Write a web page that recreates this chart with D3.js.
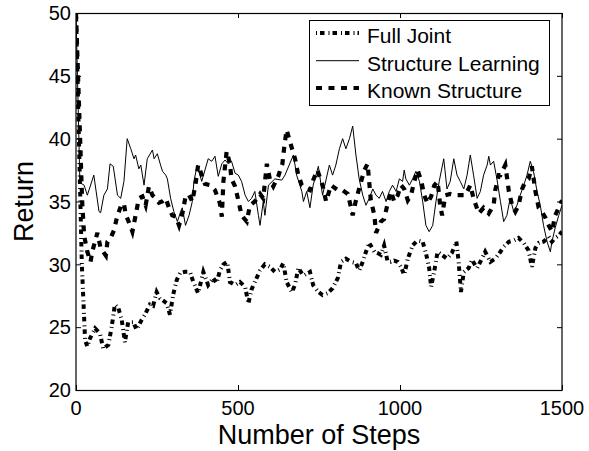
<!DOCTYPE html>
<html>
<head>
<meta charset="utf-8">
<script src="https://cdn.jsdelivr.net/npm/d3@7"></script>
<style>
  html, body { margin: 0; padding: 0; background: #fff; }
  svg { display: block; }
  text { font-family: "Liberation Sans", Arial, Helvetica, sans-serif; fill: #000; }
</style>
</head>
<body>
<svg id="chart" width="589" height="451"></svg>
<script>
// Return per episode step for three learners
const stepsFull = [0,18,28,35,43,59,74,84,100,110,120,131,141,151,161,177,187,203,213,228,238,249,259,270,280,290,300,311,321,336,352,362,377,393,408,424,434,444,455,467,475,491,506,522,532,542,552,568,583,599,614,630,640,650,666,676,686,702,722,732,748,761,777,792,808,818,833,849,864,874,885,895,905,921,931,941,951,962,972,982,993,1003,1013,1024,1039,1054,1070,1080,1090,1096,1106,1116,1130,1145,1160,1174,1181,1188,1197,1212,1222,1238,1253,1263,1279,1294,1310,1320,1336,1351,1366,1382,1397,1407,1418,1428,1443,1459,1469,1479,1490,1500];
const returnFull = [50,30,24.0,23.45,24.1,24.9,24.5,23.3,23.6,25.0,26.8,26.5,25.6,23.8,25.4,25.4,24.8,25.6,26.0,26.8,26.7,27.8,27.3,27.1,26.9,26.0,27.6,28.75,29.3,29.4,29.4,28.6,27.7,29.4,28.35,28.9,28.5,29.5,30.0,30.2,28.6,28.35,28.6,28.2,26.9,28.0,28.6,29.5,30.0,29.8,29.4,29.6,30.1,28.6,27.8,28.35,29.7,29.1,29.4,28.35,27.8,27.55,27.7,28.1,28.9,30.2,30.45,30.2,30.1,29.5,30.2,31.0,31.7,31.0,30.9,30.75,31.5,30.2,30.2,30.3,30.2,29.8,29.15,30.45,31.5,31.9,31.8,30.9,29.7,28.2,29.5,31.0,30.75,30.45,30.9,31.8,30.2,27.8,29.4,29.7,30.35,29.7,30.45,31.0,30.2,30.45,31.0,31.4,31.8,31.9,32.1,31.7,31.1,29.8,31.3,31.7,31.8,32.2,31.8,32.1,32.3,32.6];

const stepsLearn = [0,12,25,35,55,71,76,86,97,105,115,128,138,148,158,169,179,184,194,200,210,220,236,241,251,261,267,277,282,292,302,313,323,328,338,349,359,364,374,388,408,419,429,439,450,460,470,480,491,501,511,522,532,542,552,563,568,578,583,594,614,635,645,666,671,681,697,702,712,722,732,748,761,782,792,802,813,823,833,844,854,864,874,885,895,905,916,926,936,946,957,967,977,988,998,1008,1013,1018,1029,1039,1049,1060,1070,1080,1090,1101,1111,1121,1135,1145,1155,1166,1176,1186,1197,1207,1217,1227,1238,1248,1258,1269,1274,1279,1289,1299,1310,1320,1330,1340,1351,1361,1371,1382,1392,1402,1412,1423,1433,1443,1454,1464,1469,1479,1490,1500];
const returnLearn = [50,36.5,36.3,35.5,37.1,34.2,34.1,35.5,36.0,38.0,37.8,35.5,35.25,36.6,40.0,39.2,38.4,38.7,37.6,37.9,36.3,38.4,39.1,38.4,38.8,37.9,37.4,37.1,36.8,35.25,34.2,33.4,34.2,34.5,33.1,33.9,35.0,36.6,37.9,36.6,38.4,38.2,38.6,37.0,38.0,38.3,38.0,38.2,37.25,37.1,36.6,35.5,35.0,35.25,35.8,33.9,33.1,35.0,33.9,36.3,36.8,36.7,37.1,38.4,38.7,37.1,35.8,35.0,35.8,34.5,36.3,37.8,35.5,37.9,37.1,37.9,39.2,40.0,39.2,40.0,41.0,38.7,36.8,35.5,34.7,35.25,36.0,35.5,35.25,35.8,35.0,35.8,36.3,35.8,36.8,36.6,37.5,36.8,36.3,36.8,37.4,36.6,35.0,33.1,32.6,33.1,35.0,36.6,38.4,36.0,36.6,38.4,37.1,36.6,36.0,37.1,38.7,37.1,35.25,35.8,37.1,37.9,38.6,37.9,38.2,36.8,35.0,33.4,33.9,35.25,34.2,34.7,35.5,36.3,37.1,38.2,37.4,35.8,34.7,33.1,31.8,31.0,31.8,32.9,33.9,34.7];

const stepsKnown = [0,19,25,35,45,50,66,76,92,97,107,117,127,138,148,153,164,174,184,194,205,215,225,236,246,256,266,277,287,297,308,318,328,339,349,359,369,377,398,414,429,444,450,455,465,475,480,491,501,511,527,537,552,568,578,589,599,609,624,637,643,650,660,676,686,697,712,722,732,745,761,772,787,808,823,839,849,854,864,880,890,900,910,921,926,941,951,962,972,982,993,1003,1013,1024,1034,1044,1054,1065,1075,1085,1096,1106,1116,1124,1130,1140,1155,1171,1186,1202,1217,1227,1243,1258,1274,1289,1294,1305,1310,1325,1336,1346,1356,1366,1377,1387,1397,1407,1418,1428,1438,1449,1459,1469,1479,1490,1500];
const returnKnown = [50,35.0,32.3,31.0,30.2,31.0,32.5,31.3,30.7,31.8,32.1,32.7,33.8,34.6,34.85,34.0,33.3,32.6,33.9,35.25,35.4,34.7,36.2,35.5,35.25,34.9,35.0,35.25,34.5,33.9,33.8,33.1,34.0,35.5,35.5,35.0,36.4,37.9,36.4,36.3,35.9,34.85,33.8,36.6,39.0,38.0,36.8,36.2,35.1,33.9,33.4,34.7,35.0,35.6,35.25,38.0,36.7,36.2,37.0,38.0,39.4,40.7,39.8,38.4,37.1,36.3,36.0,35.9,36.7,37.5,36.3,35.0,36.3,35.9,35.9,35.6,34.5,33.9,35.1,36.6,37.5,38.0,35.1,33.9,32.5,33.4,33.6,34.85,35.8,35.0,35.5,36.3,36.0,35.1,35.5,36.6,37.5,36.7,35.5,34.85,35.4,36.3,36.6,34.7,33.9,35.5,35.6,35.5,35.5,35.5,36.3,35.25,34.05,34.5,34.05,34.7,35.9,37.1,37.1,37.9,35.8,34.7,34.2,34.7,36.0,36.6,36.8,37.8,35.8,34.5,34.2,33.7,33.1,32.6,33.9,34.5,35.1];

const seriesNames = ["Full Joint", "Structure Learning", "Known Structure"];
const xTicks = [0, 500, 1000, 1500];
const yTicks = [20, 25, 30, 35, 40, 45, 50];

const svg = d3.select("#chart");
const m = { left: 76, top: 13, right: 562, bottom: 390 };

const x = d3.scaleLinear().domain([0, 1500]).range([m.left, m.right]);
const y = d3.scaleLinear().domain([20, 50]).range([m.bottom, m.top]);

// line styles per series
const styles = [
  { width: 4, dash: "1,3,4.5,4", color: "#000" },
  { width: 1, dash: null, color: "#000" },
  { width: 4.2, dash: "6,6.5", color: "#000" }
];

const data = [
  d3.zip(stepsFull, returnFull),
  d3.zip(stepsLearn, returnLearn),
  d3.zip(stepsKnown, returnKnown)
];

const line = d3.line().x(d => x(d[0])).y(d => y(d[1]));

svg.append("clipPath").attr("id", "plotclip")
  .append("rect").attr("x", m.left).attr("y", m.top)
  .attr("width", m.right - m.left).attr("height", m.bottom - m.top);

const plot = svg.append("g").attr("clip-path", "url(#plotclip)");
data.forEach((d, i) => {
  plot.append("path")
    .attr("d", line(d))
    .attr("fill", "none")
    .attr("stroke", styles[i].color)
    .attr("stroke-width", styles[i].width)
    .attr("stroke-dasharray", styles[i].dash)
    .attr("stroke-linejoin", "miter")
    .attr("stroke-linecap", "butt");
});

// axes with inward ticks on all four sides
const tickLen = 5;
svg.append("g").attr("transform", `translate(0,${m.bottom})`)
  .call(d3.axisBottom(x).tickValues(xTicks).tickSizeInner(-tickLen).tickSizeOuter(0).tickFormat(""))
  .call(g => g.select(".domain").remove());
svg.append("g").attr("transform", `translate(0,${m.top})`)
  .call(d3.axisTop(x).tickValues(xTicks).tickSizeInner(-tickLen).tickSizeOuter(0).tickFormat(""))
  .call(g => g.select(".domain").remove());
svg.append("g").attr("transform", `translate(${m.left},0)`)
  .call(d3.axisLeft(y).tickValues(yTicks).tickSizeInner(-tickLen).tickSizeOuter(0).tickFormat(""))
  .call(g => g.select(".domain").remove());
svg.append("g").attr("transform", `translate(${m.right},0)`)
  .call(d3.axisRight(y).tickValues(yTicks).tickSizeInner(-tickLen).tickSizeOuter(0).tickFormat(""))
  .call(g => g.select(".domain").remove());
svg.selectAll(".tick line").attr("stroke", "#000").attr("stroke-width", 1);

svg.append("rect")
  .attr("x", m.left).attr("y", m.top + 0.5)
  .attr("width", m.right - m.left).attr("height", m.bottom - m.top)
  .attr("fill", "none").attr("stroke", "#000").attr("stroke-width", 1.2);

// tick labels
svg.append("g").selectAll("text").data(xTicks).join("text")
  .attr("x", d => x(d)).attr("y", 415)
  .attr("text-anchor", "middle").attr("font-size", 20)
  .text(d => d);
svg.append("g").selectAll("text").data(yTicks).join("text")
  .attr("x", 71).attr("y", d => y(d)).attr("dy", "0.36em")
  .attr("text-anchor", "end").attr("font-size", 20)
  .text(d => d);

// axis titles
svg.append("text")
  .attr("x", (m.left + m.right) / 2).attr("y", 444)
  .attr("text-anchor", "middle").attr("font-size", 27)
  .text("Number of Steps");
svg.append("text")
  .attr("transform", `translate(33,${(m.top + m.bottom) / 2}) rotate(-90)`)
  .attr("text-anchor", "middle").attr("font-size", 27)
  .text("Return");

// legend
const lg = svg.append("g");
lg.append("rect")
  .attr("x", 309.5).attr("y", 20.5).attr("width", 240).attr("height", 85)
  .attr("fill", "#fff").attr("stroke", "#000").attr("stroke-width", 1);
const rowY = [33, 60.7, 88];
const textY = [43.3, 71, 98.3];
seriesNames.forEach((name, i) => {
  lg.append("line")
    .attr("x1", 316).attr("x2", 359).attr("y1", rowY[i]).attr("y2", rowY[i])
    .attr("stroke", styles[i].color)
    .attr("stroke-width", styles[i].width)
    .attr("stroke-dasharray", styles[i].dash);
  lg.append("text")
    .attr("x", 367).attr("y", textY[i]).attr("font-size", 21)
    .text(name);
});
</script>
</body>
</html>
